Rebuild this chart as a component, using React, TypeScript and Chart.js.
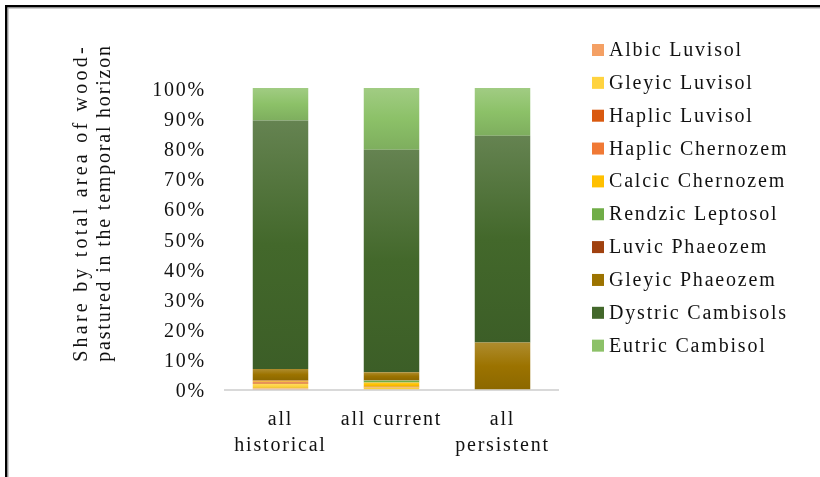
import { useEffect, useRef } from 'react';
import { Chart, registerables } from 'chart.js';

Chart.register(...registerables);

// Periods of wood-pasture use (x axis)
const periods: (string | string[])[] = [['all', 'historical'], 'all current', ['all', 'persistent']];

// Soil types, stacked from the bottom of each bar upwards
const soilTypes = [
  'Albic Luvisol',
  'Gleyic Luvisol',
  'Haplic Luvisol',
  'Haplic Chernozem',
  'Calcic Chernozem',
  'Rendzic Leptosol',
  'Luvic Phaeozem',
  'Gleyic Phaeozem',
  'Dystric Cambisols',
  'Eutric Cambisol',
];

// Share (%) of each soil type per period: historical, current, persistent
const albicLuvisol = [0.3, 0.1, 0];
const gleyicLuvisol = [1.6, 0.6, 0];
const haplicLuvisol = [0.3, 0.1, 0];
const haplicChernozem = [0.4, 0.1, 0];
const calcicChernozem = [0.3, 1.4, 0];
const rendzicLeptosol = [0, 0.7, 0];
const luvicPhaeozem = [0.2, 0.1, 0];
const gleyicPhaeozem = [3.7, 2.6, 15.6];
const dystricCambisols = [82.4, 73.8, 68.6];
const eutricCambisol = [10.8, 20.5, 15.8];

const shares = [
  albicLuvisol,
  gleyicLuvisol,
  haplicLuvisol,
  haplicChernozem,
  calcicChernozem,
  rendzicLeptosol,
  luvicPhaeozem,
  gleyicPhaeozem,
  dystricCambisols,
  eutricCambisol,
];

const soilColors = [
  '#F4A064',
  '#FFD33F',
  '#D9590F',
  '#F07935',
  '#FFC000',
  '#70AD47',
  '#A0410F',
  '#9C7300',
  '#43682B',
  '#8CC168',
];

// Y axis
const yMin = 0;
const yMax = 100;
const yStep = 10;
const yTitleLines = ['Share by total area of wood-', 'pastured in the temporal horizon'];

const FONT = "'Liberation Serif', 'Times New Roman', serif";
const TEXT = '#111111';
const SPACING = '1.8px';

function hexToRgb(hex: string) {
  const n = parseInt(hex.slice(1), 16);
  return [(n >> 16) & 255, (n >> 8) & 255, n & 255];
}

function mix(hex: string, target: number, amount: number) {
  const [r, g, b] = hexToRgb(hex).map((c) => Math.round(c + (target - c) * amount));
  return `rgb(${r},${g},${b})`;
}

// Vertical gradient across each stacked segment: lighter on top, darker at the base
function segmentFill(ctx: any) {
  const di = ctx.datasetIndex;
  const base = soilColors[di];
  const chart = ctx.chart;
  const y = chart.scales?.y;
  if (ctx.type !== 'data' || !y || !chart.chartArea) return base;
  const i = ctx.dataIndex;
  let start = 0;
  for (let k = 0; k < di; k++) start += shares[k][i];
  const end = start + shares[di][i];
  const top = y.getPixelForValue(end);
  const bottom = y.getPixelForValue(start);
  if (!(bottom - top > 0.5)) return base;
  const g = chart.ctx.createLinearGradient(0, top, 0, bottom);
  g.addColorStop(0, mix(base, 255, 0.18));
  g.addColorStop(0.5, base);
  g.addColorStop(1, mix(base, 0, 0.1));
  return g;
}

const decorations = {
  id: 'decorations',
  beforeLayout(chart: any) {
    chart.ctx.letterSpacing = SPACING;
  },
  beforeDraw(chart: any) {
    const c = chart.ctx;
    c.save();
    c.fillStyle = '#ffffff';
    c.fillRect(0, 0, chart.width, chart.height);
    // outer frame (top and left edges)
    c.fillStyle = '#000000';
    c.fillRect(5, 5, chart.width, 2.5);
    c.fillRect(5, 5, 2.5, chart.height);
    c.fillStyle = '#a0a0a0';
    c.fillRect(7.5, 7.5, chart.width, 1);
    c.fillRect(7.5, 7.5, 1, chart.height);
    c.restore();
    c.letterSpacing = SPACING;
  },
  afterDraw(chart: any) {
    const c = chart.ctx;
    c.save();
    c.font = `20px ${FONT}`;
    c.fillStyle = TEXT;

    // y axis title, two rotated lines (first line justified to the second's length)
    const cy = 203;
    const baselines = [87, 110];
    c.textAlign = 'center';
    c.textBaseline = 'alphabetic';
    c.letterSpacing = SPACING;
    const fullLen = c.measureText(yTitleLines[1]).width;
    yTitleLines.forEach((line, li) => {
      c.letterSpacing = SPACING;
      if (li === 0) {
        c.letterSpacing = '0px';
        const w = c.measureText(line).width;
        const extra = (fullLen - w) / line.length;
        c.letterSpacing = `${extra.toFixed(2)}px`;
      }
      c.save();
      c.translate(baselines[li], cy);
      c.rotate(-Math.PI / 2);
      c.fillText(line, 0, 0);
      c.restore();
    });

    // legend
    c.letterSpacing = SPACING;
    c.textAlign = 'left';
    c.textBaseline = 'alphabetic';
    soilTypes.forEach((name, i) => {
      const base = 56 + i * 32.85;
      c.fillStyle = soilColors[i];
      c.fillRect(592, base - 12, 12, 12);
      c.fillStyle = TEXT;
      c.fillText(name, 609, base);
    });
    c.restore();
  },
};

export default function App() {
  const canvasRef = useRef<HTMLCanvasElement | null>(null);

  useEffect(() => {
    const canvas = canvasRef.current;
    if (!canvas) return;
    const chart = new Chart(canvas, {
      type: 'bar',
      data: {
        labels: periods,
        datasets: soilTypes.map((name, di) => ({
          label: name,
          data: shares[di],
          backgroundColor: segmentFill,
          borderWidth: 0,
          barPercentage: 0.5,
          categoryPercentage: 1,
        })),
      },
      options: {
        responsive: false,
        animation: false,
        events: [],
        layout: { padding: { left: 0, right: 262, top: 88, bottom: 0 } },
        plugins: {
          legend: { display: false },
          tooltip: { enabled: false },
          title: { display: false },
        },
        scales: {
          x: {
            stacked: true,
            grid: { display: false, drawTicks: false },
            border: { display: true, color: '#D9D9D9', width: 2 },
            ticks: {
              color: TEXT,
              font: { family: FONT, size: 20, lineHeight: 1.3 },
              padding: 17,
              maxRotation: 0,
              autoSkip: false,
            },
            afterFit: (scale: any) => {
              scale.height = 87.5;
            },
          },
          y: {
            stacked: true,
            min: yMin,
            max: yMax,
            grid: { display: false, drawTicks: false },
            border: { display: false },
            ticks: {
              stepSize: yStep,
              color: TEXT,
              font: { family: FONT, size: 20 },
              padding: 19,
              labelOffset: 2.5,
              callback: (v: any) => `${v}%`,
            },
            afterFit: (scale: any) => {
              scale.width = 225;
            },
          },
        },
      },
      plugins: [decorations],
    });
    return () => chart.destroy();
  }, []);

  return (
    <div style={{ position: 'absolute', left: 0, top: 0, width: 820, height: 477, background: '#fff' }}>
      <canvas ref={canvasRef} width={820} height={477} style={{ display: 'block' }} />
    </div>
  );
}
